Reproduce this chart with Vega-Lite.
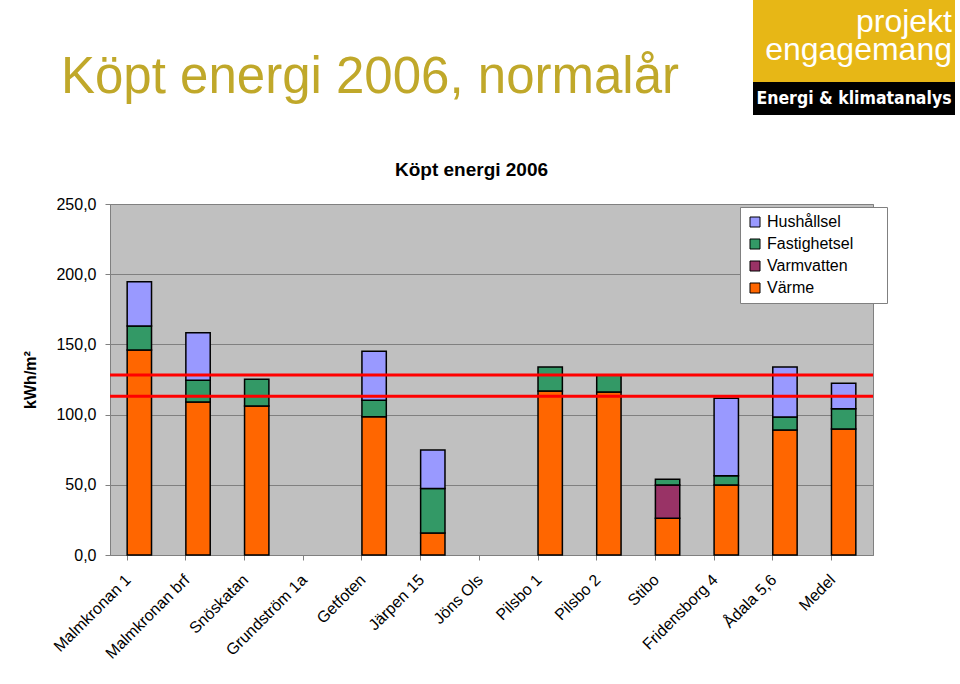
{
  "$schema": "https://vega.github.io/schema/vega-lite/v6.json",
  "padding": {"left": 22, "top": 0, "right": 0, "bottom": 0},
  "background": "white",
  "config": {
    "font": "Liberation Sans",
    "view": {"stroke": null},
    "concat": {"spacing": 0}
  },
  "spacing": 45,
  "vconcat": [
    {
      "spacing": 73,
      "hconcat": [
        {
          "width": 520,
          "height": 115,
          "data": {"values": [{"t": "Köpt energi 2006, normalår"}]},
          "mark": {"type": "text", "fontSize": 51, "color": "#c0a82a", "align": "center", "baseline": "alphabetic", "dy": 35.5},
          "encoding": {"text": {"field": "t"}}
        },
        {
          "spacing": 0,
          "vconcat": [
            {
              "width": 202,
              "height": 82,
              "view": {"fill": "#e7b716", "stroke": null},
              "data": {"values": [{"t": "projekt"}, {"t": "engagemang"}]},
              "mark": {"type": "text", "fontSize": 32, "color": "white", "align": "right", "baseline": "alphabetic", "dx": -3, "dy": 5},
              "encoding": {
                "text": {"field": "t"},
                "x": {"value": "width"},
                "y": {"field": "t", "type": "nominal", "sort": ["projekt", "engagemang"], "axis": null, "scale": {"type": "point", "padding": 1.283}}
              }
            },
            {
              "width": 202,
              "height": 33,
              "view": {"fill": "black", "stroke": null},
              "data": {"values": [{"t": "Energi & klimatanalys"}]},
              "mark": {"type": "text", "fontSize": 17.5, "fontWeight": "bold", "font": "DejaVu Sans Condensed, Liberation Sans, sans-serif", "color": "white", "align": "center", "baseline": "middle"},
              "encoding": {"text": {"field": "t"}}
            }
          ]
        }
      ]
    },
    {
      "width": 763,
      "height": 351,
      "view": {"fill": "#c0c0c0", "stroke": "#808080", "strokeWidth": 1},
      "title": {"text": "Köpt energi 2006", "fontSize": 19, "fontWeight": "bold", "color": "black", "anchor": "middle", "offset": 16, "dx": -20},
      "layer": [
        {
          "data": {"values": [
            {"namn": "Malmkronan 1", "serie": "Värme", "v": 146.0},
            {"namn": "Malmkronan 1", "serie": "Fastighetsel", "v": 17.1},
            {"namn": "Malmkronan 1", "serie": "Hushållsel", "v": 31.6},
            {"namn": "Malmkronan brf", "serie": "Värme", "v": 109.0},
            {"namn": "Malmkronan brf", "serie": "Fastighetsel", "v": 15.4},
            {"namn": "Malmkronan brf", "serie": "Hushållsel", "v": 33.9},
            {"namn": "Snöskatan", "serie": "Värme", "v": 106.1},
            {"namn": "Snöskatan", "serie": "Fastighetsel", "v": 19.0},
            {"namn": "Getfoten", "serie": "Värme", "v": 98.5},
            {"namn": "Getfoten", "serie": "Fastighetsel", "v": 11.7},
            {"namn": "Getfoten", "serie": "Hushållsel", "v": 34.9},
            {"namn": "Järpen 15", "serie": "Värme", "v": 15.6},
            {"namn": "Järpen 15", "serie": "Fastighetsel", "v": 31.8},
            {"namn": "Järpen 15", "serie": "Hushållsel", "v": 27.4},
            {"namn": "Pilsbo 1", "serie": "Värme", "v": 116.8},
            {"namn": "Pilsbo 1", "serie": "Fastighetsel", "v": 17.1},
            {"namn": "Pilsbo 2", "serie": "Värme", "v": 116.1},
            {"namn": "Pilsbo 2", "serie": "Fastighetsel", "v": 12.3},
            {"namn": "Stibo", "serie": "Värme", "v": 26.1},
            {"namn": "Stibo", "serie": "Varmvatten", "v": 23.8},
            {"namn": "Stibo", "serie": "Fastighetsel", "v": 4.0},
            {"namn": "Fridensborg 4", "serie": "Värme", "v": 49.9},
            {"namn": "Fridensborg 4", "serie": "Fastighetsel", "v": 6.6},
            {"namn": "Fridensborg 4", "serie": "Hushållsel", "v": 55.1},
            {"namn": "Ådala 5,6", "serie": "Värme", "v": 89.0},
            {"namn": "Ådala 5,6", "serie": "Fastighetsel", "v": 9.3},
            {"namn": "Ådala 5,6", "serie": "Hushållsel", "v": 35.6},
            {"namn": "Medel", "serie": "Värme", "v": 89.7},
            {"namn": "Medel", "serie": "Fastighetsel", "v": 14.5},
            {"namn": "Medel", "serie": "Hushållsel", "v": 18.1}
          ]},
          "transform": [
            {"calculate": "indexof(['Värme', 'Varmvatten', 'Fastighetsel', 'Hushållsel'], datum.serie)", "as": "stackorder"}
          ],
          "mark": {"type": "bar", "stroke": "black", "strokeWidth": 1.5},
          "encoding": {
            "x": {
              "field": "namn", "type": "nominal", "title": null,
              "scale": {"domain": ["Malmkronan 1", "Malmkronan brf", "Snöskatan", "Grundström 1a", "Getfoten", "Järpen 15", "Jöns Ols", "Pilsbo 1", "Pilsbo 2", "Stibo", "Fridensborg 4", "Ådala 5,6", "Medel"], "paddingInner": 0.585, "paddingOuter": 0.2925},
              "axis": {"labelAngle": -45, "labelAlign": "right", "labelBaseline": "middle", "labelFontSize": 16, "labelColor": "black", "tickSize": 5, "tickColor": "#808080", "domainColor": "#808080", "bandPosition": 0, "labelOffset": -11, "labelPadding": 17, "labelLimit": 300}
            },
            "y": {
              "field": "v", "type": "quantitative", "stack": "zero",
              "scale": {"domain": [0, 250], "nice": false},
              "axis": {"values": [0, 50, 100, 150, 200, 250], "labelExpr": "replace(format(datum.value, '.1f'), '.', ',')", "labelFontSize": 16, "labelColor": "black", "labelPadding": 9, "tickSize": 5, "tickColor": "#808080", "domainColor": "#808080", "grid": true, "gridColor": "#808080", "title": "kWh/m²", "titleFontSize": 16, "titleFontWeight": "bold", "titleColor": "black", "titlePadding": 17}
            },
            "order": {"field": "stackorder", "type": "quantitative"},
            "color": {
              "field": "serie", "type": "nominal",
              "scale": {"domain": ["Hushållsel", "Fastighetsel", "Varmvatten", "Värme"], "range": ["#9999ff", "#339966", "#993366", "#ff6600"]},
              "legend": {"orient": "none", "legendX": 630, "legendY": 207, "title": null, "fillColor": "white", "strokeColor": "#808080", "padding": 7, "symbolType": "square", "symbolSize": 100, "symbolStrokeColor": "black", "symbolStrokeWidth": 1, "labelFontSize": 16, "labelColor": "black", "rowPadding": 6, "labelExpr": "datum.label + '      \u200b'"}
            }
          }
        },
        {
          "data": {"values": [{"ref": 128.2}, {"ref": 113.0}]},
          "mark": {"type": "rule", "color": "#ff0000", "strokeWidth": 3},
          "encoding": {
            "y": {
              "field": "ref", "type": "quantitative",
              "axis": {"values": [0, 50, 100, 150, 200, 250], "labelExpr": "replace(format(datum.value, '.1f'), '.', ',')", "labelFontSize": 16, "labelColor": "black", "labelPadding": 9, "tickSize": 5, "tickColor": "#808080", "domainColor": "#808080", "grid": true, "gridColor": "#808080", "title": "kWh/m²", "titleFontSize": 16, "titleFontWeight": "bold", "titleColor": "black", "titlePadding": 17}
            }
          }
        }
      ]
    }
  ]
}
